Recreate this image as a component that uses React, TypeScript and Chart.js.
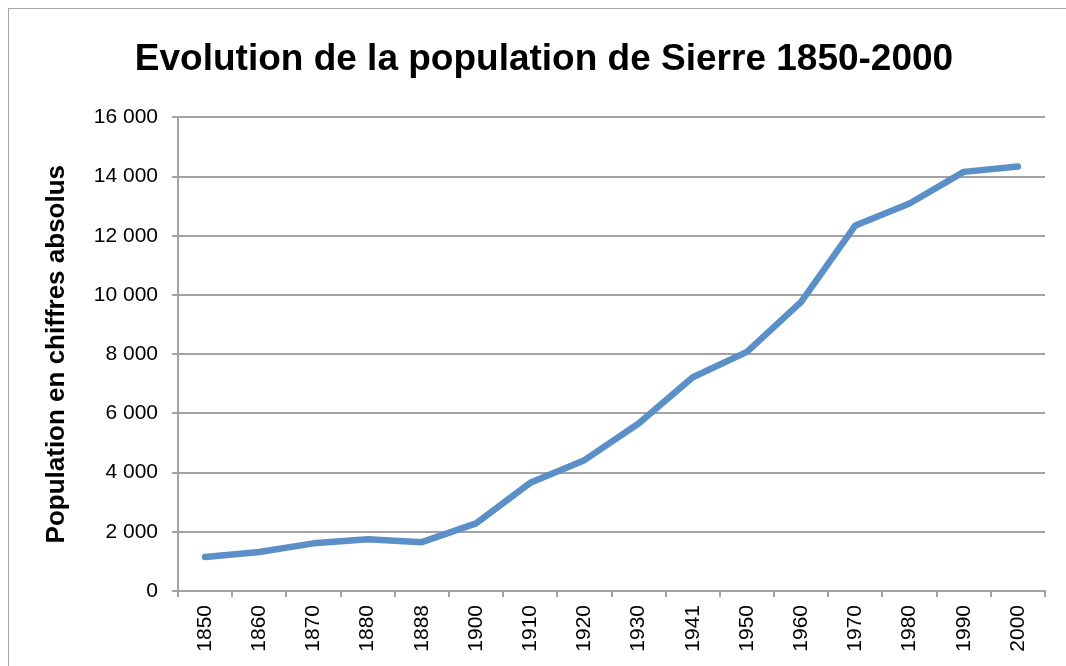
import React, { useEffect, useRef } from "react";
import { Chart, registerables } from "chart.js";

Chart.register(...registerables);

const chartTitle = "Evolution de la population de Sierre 1850-2000";
const yAxisTitle = "Population en chiffres absolus";
const years = ["1850", "1860", "1870", "1880", "1888", "1900", "1910", "1920", "1930", "1941", "1950", "1960", "1970", "1980", "1990", "2000"];
const population = [1150, 1320, 1610, 1745, 1650, 2285, 3656, 4420, 5660, 7220, 8080, 9770, 12350, 13090, 14160, 14340];
const yMin = 0;
const yMax = 16000;
const yStep = 2000;

const FONT = "'Liberation Sans', Arial, Helvetica, sans-serif";
const GRID = "#a3a3a3";

function formatThousands(v: number): string {
  return String(v).replace(/\B(?=(\d{3})+(?!\d))/g, " ");
}

export default function App() {
  const canvasRef = useRef<HTMLCanvasElement | null>(null);

  useEffect(() => {
    document.documentElement.style.overflow = "hidden";
    document.body.style.overflow = "hidden";
    const canvas = canvasRef.current;
    if (!canvas) return;
    const chart = new Chart(canvas, {
      type: "line",
      data: {
        labels: years,
        datasets: [
          {
            label: "Population",
            data: population,
            borderColor: "#5a8fc8",
            backgroundColor: "#5a8fc8",
            borderWidth: 6.5,
            borderCapStyle: "round",
            borderJoinStyle: "round",
            pointRadius: 0,
            pointHoverRadius: 0,
            tension: 0,
            fill: false,
          },
        ],
      },
      options: {
        responsive: false,
        animation: false,
        layout: { padding: { left: 34, right: 34, top: 0, bottom: 0 } },
        plugins: {
          legend: { display: false },
          tooltip: { enabled: false },
          title: {
            display: true,
            text: chartTitle,
            color: "#000",
            font: { family: FONT, size: 37, weight: "bold", lineHeight: 1.2 },
            padding: { top: 29, bottom: 35 },
          },
        },
        scales: {
          x: {
            type: "category",
            offset: true,
            grid: {
              offset: true,
              drawOnChartArea: false,
              drawTicks: true,
              tickLength: 6,
              color: GRID,
              lineWidth: 2,
            },
            border: { display: true, color: GRID, width: 2 },
            ticks: {
              color: "#000",
              font: { family: FONT, size: 21 },
              minRotation: 90,
              maxRotation: 90,
              padding: 8,
              autoSkip: false,
            },
            afterFit: (scale: any) => {
              scale.height = 680 - 582;
            },
          },
          y: {
            min: yMin,
            max: yMax,
            grid: {
              drawTicks: true,
              tickLength: 6,
              color: GRID,
              lineWidth: 2,
            },
            border: { display: true, color: GRID, width: 2 },
            ticks: {
              stepSize: yStep,
              color: "#000",
              font: { family: FONT, size: 21 },
              padding: 14,
              callback: (v: any) => formatThousands(Number(v)),
            },
            title: {
              display: true,
              text: yAxisTitle,
              color: "#000",
              font: { family: FONT, size: 26, weight: "bold", lineHeight: 1.0 },
              padding: { top: 1, bottom: 0 },
            },
            afterFit: (scale: any) => {
              scale.width = 135;
            },
          },
        },
      },
    } as any);
    return () => chart.destroy();
  }, []);

  return (
    <div
      style={{
        position: "fixed",
        left: 0,
        top: 0,
        width: 1066,
        height: 666,
        overflow: "hidden",
        background: "#fff",
      }}
    >
      <div
        style={{
          position: "absolute",
          left: 8,
          top: 8,
          width: 1072,
          height: 682,
          borderLeft: "1px solid #a6a6a6",
          borderTop: "1px solid #a6a6a6",
          boxSizing: "border-box",
        }}
      >
        <canvas ref={canvasRef} width={1070} height={680} style={{ display: "block" }} />
      </div>
    </div>
  );
}
